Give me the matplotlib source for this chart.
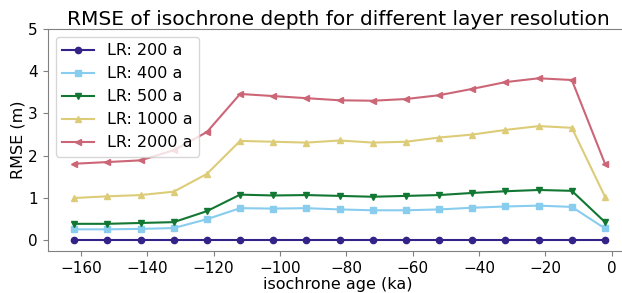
import numpy as np
import matplotlib
matplotlib.use("Agg")
import matplotlib.pyplot as plt

# isochrone ages (ka) and RMSE (m) per layer resolution
ages = [-162, -152, -142, -132, -122, -112, -102, -92, -82,
        -72, -62, -52, -42, -32, -22, -12, -2]

rmse_200 = [0.0] * 17
rmse_400 = [0.26, 0.26, 0.27, 0.29, 0.50, 0.76, 0.75, 0.76, 0.73,
            0.71, 0.71, 0.73, 0.77, 0.80, 0.82, 0.79, 0.28]
rmse_500 = [0.39, 0.39, 0.41, 0.43, 0.69, 1.08, 1.06, 1.07, 1.05,
            1.03, 1.05, 1.07, 1.12, 1.16, 1.19, 1.17, 0.43]
rmse_1000 = [1.00, 1.04, 1.07, 1.15, 1.57, 2.35, 2.33, 2.31, 2.36,
             2.31, 2.33, 2.43, 2.50, 2.61, 2.70, 2.66, 1.03]
rmse_2000 = [1.81, 1.85, 1.89, 2.13, 2.56, 3.46, 3.41, 3.36, 3.31,
             3.30, 3.34, 3.43, 3.58, 3.74, 3.83, 3.79, 1.81]

labels = ["LR: 200 a", "LR: 400 a", "LR: 500 a", "LR: 1000 a", "LR: 2000 a"]
colors = ["#332288", "#88CCEE", "#117733", "#DDCC77", "#CC6677"]
markers = ["o", "s", "v", "^", "<"]

fig = plt.figure(figsize=(6.22, 2.93), dpi=100)
ax = fig.add_axes([0.0767, 0.1437, 0.9333, 0.758])

series = [rmse_200, rmse_400, rmse_500, rmse_1000, rmse_2000]
for vals, lab, col, mk in zip(series, labels, colors, markers):
    ax.plot(ages, vals, color=col, marker=mk, markersize=4.5,
            linewidth=1.5, label=lab)

ax.set_xlim(-170, 5)
ax.set_ylim(-0.25, 5)
ax.set_xticks(np.arange(-160, 1, 20))
ax.set_yticks(np.arange(0, 6, 1))

for sp in ax.spines.values():
    sp.set_color("#808080")
ax.tick_params(colors="#808080", labelcolor="black", labelsize=11)

ax.set_xlabel("isochrone age (ka)", fontsize=11.5, labelpad=1)
ax.set_ylabel("RMSE (m)", fontsize=11.5, labelpad=2)
ax.set_title("RMSE of isochrone depth for different layer resolution",
             fontsize=14.5, pad=3)
ax.legend(loc="upper left", fontsize=11.5)

fig.savefig("out.png", dpi=100)
